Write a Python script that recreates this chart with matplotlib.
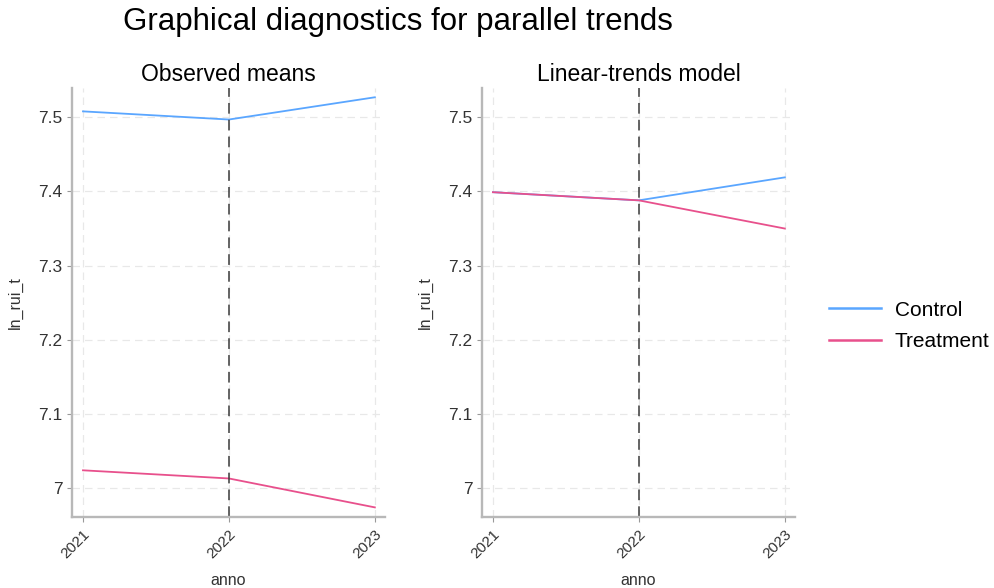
#!/usr/bin/env python3
import matplotlib
matplotlib.use("Agg")
import matplotlib.pyplot as plt
from matplotlib.lines import Line2D

years = [2021, 2022, 2023]
groups = ["Control", "Treatment"]
colors = {"Control": "#5aa6ff", "Treatment": "#e8508c"}

# observed group means
observed = {
    "Control": [7.508, 7.497, 7.527],
    "Treatment": [7.024, 7.013, 6.974],
}
# fitted linear-trends model
linear = {
    "Control": [7.399, 7.388, 7.419],
    "Treatment": [7.399, 7.388, 7.350],
}
panels = [("Observed means", observed), ("Linear-trends model", linear)]
yticks = [7.0, 7.1, 7.2, 7.3, 7.4, 7.5]
ytick_labels = ["7", "7.1", "7.2", "7.3", "7.4", "7.5"]
treat_year = 2022

plt.rcParams["font.family"] = ["Liberation Sans", "DejaVu Sans"]
fig = plt.figure(figsize=(9.95, 5.88), dpi=100)

axes_pos = [[0.0724, 0.1207, 0.3146, 0.729], [0.4844, 0.1207, 0.3146, 0.729]]

for pos, (title, data) in zip(axes_pos, panels):
    ax = fig.add_axes(pos)
    ax.grid(True, color="#e8e8e8", linestyle=(0, (6, 4)), linewidth=0.9)
    ax.set_axisbelow(True)
    for g in groups:
        ax.plot(years, data[g], color=colors[g], linewidth=1.3)
    ax.axvline(treat_year, color="#3a3a3a", linestyle=(0, (7, 4)), linewidth=1.1)
    ax.set_xlim(2020.925, 2023.07)
    ax.set_ylim(6.961, 7.539)
    ax.set_xticks(years)
    ax.set_xticklabels([str(y) for y in years], rotation=45, ha="right",
                       rotation_mode="anchor", fontsize=11, color="#333333")
    ax.set_yticks(yticks)
    ax.set_yticklabels(ytick_labels, fontsize=12.5, color="#333333")
    ax.tick_params(length=3.5, color="#999999")
    for side in ["top", "right"]:
        ax.spines[side].set_visible(False)
    for side in ["left", "bottom"]:
        ax.spines[side].set_color("#b8b8b8")
        ax.spines[side].set_linewidth(1.7)
    ax.set_xlabel("anno", fontsize=11.5, color="#333333", labelpad=9)
    ax.set_ylabel("ln_rui_t", fontsize=11.5, color="#333333", labelpad=11)
    ax.set_title(title, fontsize=16.5, pad=5)

fig.text(0.124, 0.9626, "Graphical diagnostics for parallel trends",
         fontsize=22.5, ha="left", va="center")

handles = [Line2D([], [], color=colors[g], linewidth=1.8) for g in groups]
fig.legend(handles, groups, loc="center left", bbox_to_anchor=(0.825, 0.446),
           frameon=False, fontsize=15, handlelength=2.5, handletextpad=0.65,
           labelspacing=0.6, borderaxespad=0)

fig.savefig("out.png", dpi=100)
